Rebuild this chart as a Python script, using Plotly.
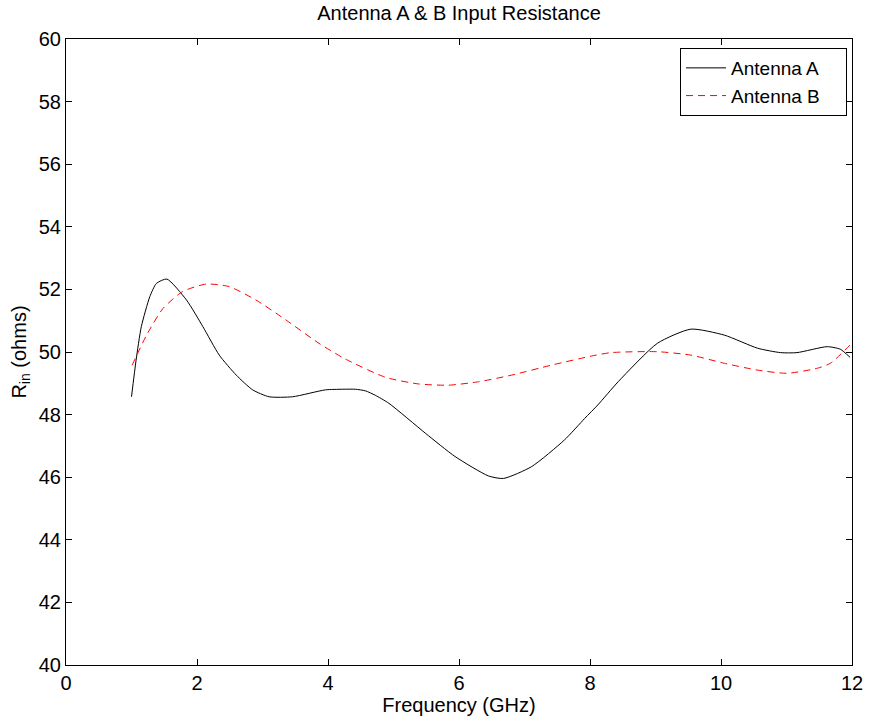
import plotly.graph_objects as go

# Antenna A input resistance (ohms) vs frequency (GHz)
freq_a = [1.00, 1.07, 1.15, 1.28, 1.38, 1.54, 1.84, 2.09, 2.34, 2.60, 2.85, 3.10,
          3.46, 3.96, 4.22, 4.42, 4.57, 4.72, 4.93, 5.49, 5.94, 6.45, 6.68, 7.11, 7.61, 7.92,
          8.12, 8.43, 9.03, 9.54, 10.05, 10.56, 10.91, 11.16, 11.62, 11.82, 11.97]
r_a = [48.57, 49.74, 50.81, 51.77, 52.19, 52.33, 51.66, 50.81, 49.90, 49.26, 48.79, 48.57,
       48.57, 48.79, 48.81, 48.81, 48.76, 48.62, 48.36, 47.40, 46.66, 46.04, 45.96, 46.34, 47.19, 47.88,
       48.31, 49.05, 50.28, 50.73, 50.54, 50.12, 49.98, 49.98, 50.17, 50.09, 49.83]

# Antenna B input resistance (ohms) vs frequency (GHz)
freq_b = [1.01, 1.23, 1.48, 1.78, 2.14, 2.49, 2.90, 3.36, 3.86, 4.27, 4.88, 5.38, 5.84,
          6.30, 6.80, 7.41, 8.02, 8.32, 9.03, 9.54, 10.05, 10.56, 11.01, 11.47, 11.67, 11.97]
r_b = [49.58, 50.54, 51.39, 51.93, 52.17, 52.09, 51.66, 51.02, 50.28, 49.77, 49.19, 48.98, 48.94,
       49.05, 49.26, 49.58, 49.87, 49.98, 50.01, 49.90, 49.64, 49.42, 49.32, 49.48, 49.64, 50.22]

x_ticks = [0, 2, 4, 6, 8, 10, 12]
y_ticks = [40, 42, 44, 46, 48, 50, 52, 54, 56, 58, 60]

FONT = "Liberation Sans, Arial, sans-serif"
PAD = "\u00a0" * 4  # right padding inside the legend box

fig = go.Figure()
fig.add_trace(go.Scatter(
    x=freq_a, y=r_a, mode="lines", name="Antenna A" + PAD,
    line=dict(color="black", width=1, shape="spline", smoothing=0.6),
))
fig.add_trace(go.Scatter(
    x=freq_b, y=r_b, mode="lines", name="Antenna B" + PAD,
    line=dict(color="red", width=1, dash="7px,5px", shape="spline", smoothing=0.6),
))

axis_common = dict(
    showline=True, linecolor="black", linewidth=1, mirror="ticks",
    ticks="inside", ticklen=6, tickcolor="black", tickwidth=1,
    showgrid=False, zeroline=False,
    tickfont=dict(family=FONT, size=20, color="black"),
)

fig.update_xaxes(
    range=[0, 12], tickvals=x_ticks, ticktext=[str(v) for v in x_ticks],
    title=dict(text="Frequency (GHz)", font=dict(family=FONT, size=20, color="black"), standoff=2),
    **axis_common,
)
fig.update_yaxes(
    range=[40, 60], tickvals=y_ticks, ticktext=[str(v) for v in y_ticks],
    title=dict(text="R<sub>in</sub> (ohms)", font=dict(family=FONT, size=20, color="black"), standoff=6),
    **axis_common,
)

fig.update_layout(
    width=875, height=727,
    margin=dict(l=66, r=20, t=39, b=62),
    paper_bgcolor="white", plot_bgcolor="white",
    title=dict(text="Antenna A & B Input Resistance", x=0.5, xref="paper", xanchor="center",
               y=1 - 13 / 727, yanchor="middle",
               font=dict(family=FONT, size=20, color="black")),
    legend=dict(
        x=0.9937, y=0.9856, xanchor="right", yanchor="top",
        bgcolor="white", bordercolor="black", borderwidth=1,
        font=dict(family=FONT, size=19, color="black"),
        tracegroupgap=0, itemwidth=40,
    ),
    showlegend=True,
)

fig.write_html("out.html")
